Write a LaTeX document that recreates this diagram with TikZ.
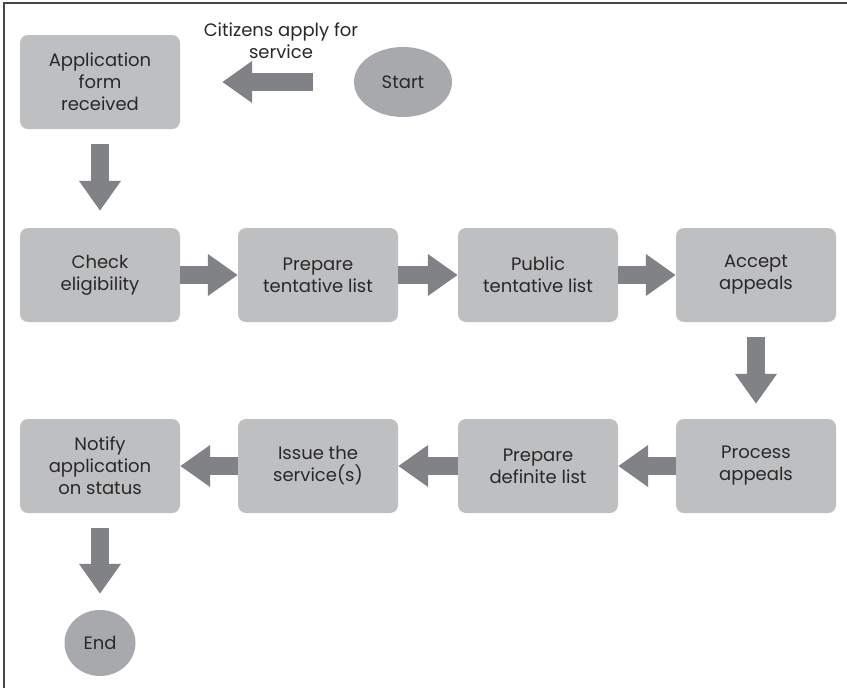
\documentclass[tikz,border=0pt]{standalone}
\usepackage{fontspec}
\setmainfont{Poppins}
\usepackage{tikz}
\usetikzlibrary{arrows.meta,shapes.geometric}
\definecolor{boxgray}{RGB}{190,191,193}
\definecolor{arrowgray}{RGB}{128,130,133}
\definecolor{termgray}{RGB}{167,169,172}
\definecolor{textgray}{RGB}{40,40,40}
\definecolor{framegray}{RGB}{70,70,70}
\begin{document}
\begin{tikzpicture}
[x=1pt, y=-1pt,
 every node/.style={inner sep=0pt, text=textgray, font=\fontsize{18}{22}\selectfont, align=center},
 box/.style={rectangle, rounded corners=8pt, minimum width=160pt, minimum height=94pt, fill=boxgray},
 term/.style={ellipse, fill=termgray},
 flow/.style={line width=18pt, draw=arrowgray, -{Triangle[width=40pt, length=30pt]}}]
\useasboundingbox (0,0) rectangle (847,688);
\draw [line width=1.5pt, color=framegray] (4,688) -- (4,3) -- (847,3);
% top row
\node (start) [term, minimum width=98pt, minimum height=70pt] at (403, 82) {Start};
\node (form) [box] at (100, 82) {Application\\form\\received};
\node (apply) at (281, 41) {Citizens apply for\\service};
% middle row
\node (check) [box] at (100, 275) {Check\\eligibility};
\node (tentative) [box] at (318, 275) {Prepare\\tentative list};
\node (public) [box] at (538, 275) {Public\\tentative list};
\node (accept) [box] at (756, 275) {Accept\\appeals};
% bottom row
\node (process) [box] at (756, 466) {Process\\appeals};
\node (definite) [box] at (538, 466) {Prepare\\definite list};
\node (issue) [box] at (318, 466) {Issue the\\service(s)};
\node (notify) [box] at (100, 466) {Notify\\application\\on status};
\node (end) [term, minimum width=71pt, minimum height=66pt] at (100, 643) {End};
\draw [flow, shorten <=41pt, shorten >=42pt] (start) to (form);
\draw [flow, shorten <=15pt, shorten >=17pt] (form) to (check);
\draw [flow] (check) to (tentative);
\draw [flow] (tentative) to (public);
\draw [flow] (public) to (accept);
\draw [flow, shorten <=15pt, shorten >=15pt] (accept) to (process);
\draw [flow] (process) to (definite);
\draw [flow] (definite) to (issue);
\draw [flow] (issue) to (notify);
\draw [flow, shorten <=15pt, shorten >=16pt] (notify) to (end);
\end{tikzpicture}
\end{document}
